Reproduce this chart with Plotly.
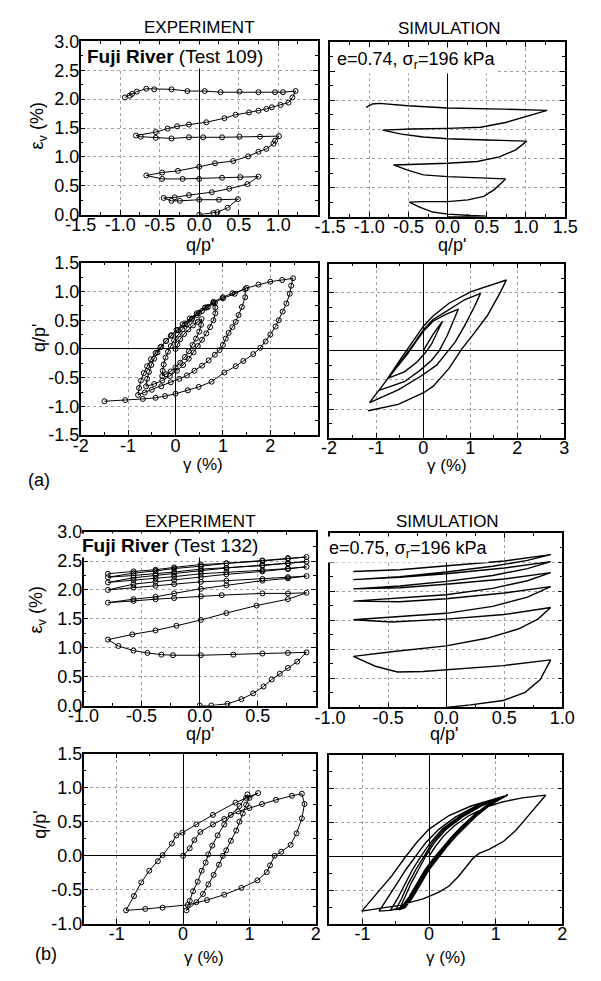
import plotly.graph_objects as go

W, H = 601, 981
FONT = "Liberation Sans, Arial, Helvetica, sans-serif"

# ------------------------------------------------------------------ data
# (a) Fuji River Test 109 - experiment : q/p'  vs  volumetric strain (%)
a_exp_qp = [0, 0.18, 0.23, 0.36, 0.49,
            0.25, 0, -0.245, -0.35, -0.45,
            -0.31, -0.13, 0.16, 0.38, 0.61, 0.75,
            0.52, 0.29, 0, -0.21, -0.47, -0.67,
            -0.47, -0.27, 0, 0.2, 0.43, 0.62, 0.75, 0.85, 0.94, 0.96, 1.01,
            0.77, 0.51, 0.29, 0.05, -0.13, -0.35, -0.55, -0.74, -0.8,
            -0.55, -0.4, -0.28, -0.13, 0.09, 0.32, 0.46, 0.63, 0.75, 0.85, 0.92, 1.03, 1.13, 1.18, 1.22,
            1.06, 0.96, 0.75, 0.51, 0.27, 0.07, -0.15, -0.35, -0.57, -0.67, -0.79, -0.85, -0.88, -0.94]
a_exp_ev = [0, 0.03, 0.045, 0.12, 0.27,
            0.26, 0.26, 0.24, 0.24, 0.29,
            0.30, 0.34, 0.39, 0.45, 0.53, 0.66,
            0.65, 0.64, 0.62, 0.62, 0.62, 0.68,
            0.73, 0.76, 0.83, 0.89, 0.93, 1.01, 1.09, 1.14, 1.23, 1.28, 1.36,
            1.35, 1.35, 1.34, 1.34, 1.34, 1.32, 1.33, 1.35, 1.37,
            1.43, 1.49, 1.53, 1.56, 1.60, 1.67, 1.73, 1.77, 1.80, 1.83, 1.86, 1.90, 1.94, 2.03, 2.14,
            2.12, 2.12, 2.12, 2.13, 2.12, 2.14, 2.14, 2.17, 2.17, 2.18, 2.13, 2.09, 2.06, 2.03]

# (a) simulation : q/p'  vs  volumetric strain (%)
a_sim_qp = [0, 0.50,
            0.30, 0, -0.19, -0.35, -0.49,
            -0.31, 0, 0.26, 0.46, 0.60, 0.74,
            0.5, 0, -0.31, -0.51, -0.69,
            -0.39, 0, 0.38, 0.66, 0.87, 1.01,
            0.5, 0, -0.31, -0.59, -0.83,
            -0.47, 0, 0.42, 0.74, 1.03, 1.27,
            0.70, 0, -0.51, -0.87, -0.96, -1.04]
a_sim_ev = [0, 0.01,
            0.02, 0.045, 0.08, 0.16, 0.25,
            0.26, 0.26, 0.29, 0.35, 0.47, 0.65,
            0.66, 0.69, 0.72, 0.80, 0.89,
            0.90, 0.92, 0.95, 1.03, 1.15, 1.30,
            1.32, 1.34, 1.37, 1.42, 1.49,
            1.51, 1.52, 1.54, 1.62, 1.73, 1.83,
            1.85, 1.87, 1.91, 1.95, 1.94, 1.88]

# (a) experiment : shear strain (%)  vs  q/p'
a_exp_gam = [0, 0.04, 0.1, 0.18, 0.27, 0.37, 0.47, 0.55,
             0.54, 0.5, 0.43, 0.36, 0.28, 0.2, 0.1, 0.0, -0.1, -0.2, -0.28,
             -0.27, -0.25, -0.21, -0.16, -0.1, -0.03, 0.05, 0.14, 0.24, 0.34, 0.45, 0.56, 0.68, 0.83,
             0.84, 0.84, 0.8, 0.73, 0.65, 0.56, 0.47, 0.38, 0.28, 0.16, 0.03, -0.12, -0.28, -0.45, -0.62,
             -0.6, -0.56, -0.51, -0.45, -0.38, -0.3, -0.2, -0.1, 0.02, 0.15, 0.3, 0.45, 0.62, 0.8, 1.0, 1.2, 1.47,
             1.47, 1.4, 1.33, 1.27, 1.2, 1.12, 1.06, 1.0, 0.93, 0.83, 0.7, 0.56, 0.4, 0.24, 0.08, -0.1, -0.3, -0.5, -0.65, -0.79,
             -0.77, -0.73, -0.67, -0.6, -0.52, -0.42, -0.32, -0.2, -0.08, 0.05, 0.2, 0.35, 0.5, 0.65, 0.8, 1.0, 1.25, 1.5, 1.75, 2.0, 2.25, 2.48,
             2.44, 2.41, 2.34, 2.26, 2.18, 2.11, 2.0, 1.9, 1.79, 1.64, 1.43, 1.27, 1.03, 0.76, 0.49, 0.26, 0.0, -0.22, -0.42, -0.69, -1.06, -1.5]
a_exp_qp2 = [0, 0.08, 0.17, 0.26, 0.34, 0.41, 0.47, 0.52,
             0.42, 0.3, 0.18, 0.07, -0.04, -0.14, -0.24, -0.32, -0.39, -0.44, -0.47,
             -0.38, -0.27, -0.15, -0.05, 0.05, 0.15, 0.25, 0.34, 0.43, 0.51, 0.59, 0.66, 0.73, 0.8,
             0.72, 0.62, 0.5, 0.38, 0.27, 0.16, 0.05, -0.06, -0.17, -0.28, -0.38, -0.47, -0.55, -0.61, -0.65,
             -0.52, -0.4, -0.28, -0.17, -0.06, 0.04, 0.14, 0.23, 0.33, 0.43, 0.53, 0.62, 0.72, 0.82, 0.9, 0.97, 1.04,
             0.9, 0.73, 0.59, 0.47, 0.38, 0.28, 0.18, 0.07, -0.02, -0.1, -0.2, -0.29, -0.38, -0.46, -0.52, -0.58, -0.65, -0.71, -0.76, -0.8,
             -0.68, -0.55, -0.42, -0.3, -0.18, -0.07, 0.03, 0.14, 0.24, 0.33, 0.43, 0.53, 0.63, 0.72, 0.8, 0.88, 0.96, 1.06, 1.12, 1.17, 1.2, 1.23,
             1.1, 0.96, 0.79, 0.65, 0.5, 0.39, 0.25, 0.13, 0.02, -0.09, -0.21, -0.3, -0.41, -0.57, -0.66, -0.72, -0.78, -0.82, -0.85, -0.87, -0.89, -0.91]

# (a) simulation : shear strain (%)  vs  q/p'
a_sim_gam = [0, 0.2, 0.41,
             0.31, 0.18, 0.06, -0.13, -0.40, -0.74,
             -0.53, -0.33, -0.16, 0.01, 0.21, 0.48, 0.75,
             0.65, 0.51, 0.34, 0.18, -0.06, -0.40, -0.94,
             -0.67, -0.40, -0.20, 0.01, 0.21, 0.55, 0.88, 1.22,
             1.09, 0.88, 0.68, 0.51, 0.28, -0.06, -0.53, -1.14,
             -0.80, -0.47, -0.23, 0.01, 0.21, 0.55, 1.02, 1.42, 1.77,
             1.63, 1.36, 1.09, 0.82, 0.55, 0.21, 0.01, -0.53, -1.17]
a_sim_qp2 = [0, 0.27, 0.51,
             0.34, 0.12, -0.02, -0.19, -0.36, -0.47,
             -0.25, -0.05, 0.15, 0.34, 0.51, 0.63, 0.72,
             0.54, 0.26, 0.0, -0.16, -0.33, -0.53, -0.68,
             -0.39, -0.11, 0.12, 0.37, 0.54, 0.71, 0.88, 0.99,
             0.76, 0.43, 0.15, -0.02, -0.25, -0.44, -0.67, -0.89,
             -0.53, -0.13, 0.15, 0.43, 0.60, 0.82, 1.02, 1.13, 1.22,
             0.99, 0.60, 0.31, 0.03, -0.30, -0.61, -0.72, -0.92, -1.03]

# (b) Fuji River Test 132 - experiment : q/p'  vs  volumetric strain (%)
b_exp_qp = [0, 0.1, 0.24, 0.36, 0.46, 0.55, 0.62, 0.69, 0.76, 0.84, 0.92,
            0.76, 0.54, 0.29, 0.01, -0.23, -0.33, -0.45, -0.57, -0.70, -0.79,
            -0.58, -0.38, -0.20, 0.01, 0.23, 0.49, 0.76, 0.92,
            0.76, 0.54, 0.19, 0.01, -0.22, -0.38, -0.57, -0.79,
            -0.57, -0.38, -0.22, 0.01, 0.23, 0.54, 0.76, 0.92,
            0.76, 0.54, 0.23, 0.01, -0.22, -0.38, -0.57, -0.79,
            -0.57, -0.38, -0.22, 0.01, 0.23, 0.54, 0.76, 0.92,
            0.76, 0.54, 0.23, 0.01, -0.22, -0.38, -0.57, -0.79,
            -0.57, -0.38, -0.22, 0.01, 0.23, 0.54, 0.76, 0.92,
            0.76, 0.54, 0.23, 0.01, -0.22, -0.38, -0.57, -0.79,
            -0.57, -0.38, -0.22, 0.01, 0.23, 0.54, 0.76, 0.92,
            0.76, 0.54, 0.23, 0.01, -0.22, -0.38, -0.57, -0.79]
b_exp_ev = [0, 0.0, 0.03, 0.11, 0.21, 0.33, 0.45, 0.55, 0.65, 0.76, 0.92,
            0.91, 0.90, 0.88, 0.87, 0.87, 0.88, 0.91, 0.95, 1.03, 1.14,
            1.23, 1.30, 1.38, 1.48, 1.60, 1.73, 1.84, 1.95,
            1.94, 1.94, 1.91, 1.89, 1.86, 1.84, 1.81, 1.78,
            1.84, 1.88, 1.94, 2.02, 2.08, 2.16, 2.20, 2.24,
            2.22, 2.19, 2.16, 2.14, 2.10, 2.07, 2.04, 2.00,
            2.10, 2.14, 2.17, 2.22, 2.27, 2.32, 2.36, 2.40,
            2.37, 2.34, 2.31, 2.28, 2.23, 2.20, 2.17, 2.13,
            2.21, 2.25, 2.28, 2.33, 2.38, 2.43, 2.46, 2.49,
            2.46, 2.42, 2.38, 2.36, 2.31, 2.28, 2.25, 2.22,
            2.29, 2.33, 2.37, 2.41, 2.46, 2.51, 2.55, 2.57,
            2.54, 2.50, 2.46, 2.44, 2.39, 2.35, 2.32, 2.28]

# (b) simulation : q/p'  vs  volumetric strain (%)
b_sim_qp = [0, 0.21, 0.49, 0.68, 0.81, 0.9,
            0.49, 0, -0.2, -0.42, -0.61, -0.8,
            -0.47, 0, 0.35, 0.62, 0.79, 0.9,
            0.5, 0, -0.47, -0.8,
            -0.4, 0, 0.4, 0.7, 0.9,
            0.5, 0, -0.4, -0.8,
            -0.4, 0, 0.4, 0.7, 0.9,
            0.5, 0, -0.4, -0.8,
            -0.4, 0, 0.4, 0.7, 0.9,
            0.5, 0, -0.4, -0.8,
            -0.4, 0, 0.4, 0.7, 0.9,
            0.5, 0, -0.4, -0.8]
b_sim_ev = [0, 0.045, 0.12, 0.26, 0.48, 0.82,
            0.72, 0.64, 0.62, 0.61, 0.71, 0.88,
            0.96, 1.06, 1.19, 1.35, 1.52, 1.72,
            1.60, 1.52, 1.47, 1.51,
            1.56, 1.62, 1.74, 1.90, 2.08,
            1.97, 1.87, 1.82, 1.83,
            1.88, 1.94, 2.05, 2.18, 2.32,
            2.21, 2.12, 2.06, 2.04,
            2.09, 2.17, 2.27, 2.39, 2.51,
            2.40, 2.30, 2.24, 2.20,
            2.25, 2.33, 2.43, 2.53, 2.63,
            2.52, 2.43, 2.37, 2.34]

# (b) experiment : shear strain (%)  vs  q/p'
b_exp_gam = [0, 0.1, 0.17, 0.26, 0.45, 0.62, 0.83, 1.0, 1.19, 1.4, 1.64, 1.79,
             1.83, 1.79, 1.71, 1.62, 1.48, 1.38, 1.31, 1.26, 1.12, 0.88, 0.62, 0.36, 0.07, -0.31, -0.57, -0.86,
             -0.74, -0.63, -0.51, -0.38, -0.31, -0.17, -0.1, -0.01, 0.2, 0.45, 0.79, 0.95, 1.13,
             1.0, 0.95, 0.9, 0.85, 0.8, 0.72, 0.65, 0.6, 0.54, 0.46, 0.38, 0.3, 0.2, 0.05,
             0.1, 0.15, 0.22, 0.28, 0.34, 0.38, 0.44, 0.52, 0.62, 0.72, 0.85, 0.97]
b_exp_qp2 = [0, 0.11, 0.23, 0.35, 0.46, 0.54, 0.65, 0.7, 0.76, 0.82, 0.88, 0.91,
             0.76, 0.55, 0.33, 0.16, 0.06, 0.0, -0.14, -0.24, -0.36, -0.47, -0.57, -0.65, -0.72, -0.76, -0.78, -0.8,
             -0.59, -0.39, -0.22, -0.08, 0.01, 0.18, 0.3, 0.34, 0.46, 0.6, 0.78, 0.85, 0.92,
             0.85, 0.75, 0.62, 0.5, 0.37, 0.22, 0.08, 0.0, -0.13, -0.28, -0.42, -0.56, -0.68, -0.8,
             -0.66, -0.52, -0.38, -0.22, -0.1, 0.02, 0.15, 0.3, 0.46, 0.6, 0.73, 0.9]

# (b) simulation : shear strain (%)  vs  q/p'
b_sim_gam = [0, 0.1, 0.22, 0.38, 0.6, 0.85, 1.1, 1.4, 1.75,
             1.6, 1.45, 1.3, 1.12, 0.9, 0.75, 0.66, 0.56, 0.44, 0.3, 0.15, -0.09, -0.47, -1.01,
             -0.8, -0.56, -0.37, -0.18, 0, 0.3, 0.63, 0.96, 1.18,
             1.0, 0.85, 0.68, 0.5, 0.35, 0.2, 0.06, -0.06, -0.18, -0.3, -0.42, -0.6, -0.75,
             -0.62, -0.48, -0.35, -0.2, -0.05, 0.15, 0.4, 0.7, 1.0, 1.18,
             1.02, 0.87, 0.7, 0.52, 0.37, 0.22, 0.08, -0.04, -0.16, -0.28, -0.4, -0.58,
             -0.47, -0.36, -0.25, -0.12, 0.02, 0.2, 0.45, 0.74, 1.02, 1.18,
             1.04, 0.89, 0.72, 0.54, 0.39, 0.24, 0.1, -0.02, -0.14, -0.26, -0.38, -0.5,
             -0.41, -0.31, -0.2, -0.08, 0.05, 0.23, 0.48, 0.76, 1.03, 1.18,
             1.05, 0.9, 0.73, 0.56, 0.41, 0.26, 0.12, 0.0, -0.12, -0.24, -0.36, -0.45,
             -0.37, -0.27, -0.16, -0.05, 0.08, 0.26, 0.5, 0.78, 1.04, 1.17]
b_sim_qp2 = [0, 0.15, 0.3, 0.45, 0.6, 0.72, 0.8, 0.86, 0.9,
             0.72, 0.55, 0.38, 0.22, 0.1, 0.04, -0.03, -0.16, -0.3, -0.44, -0.53, -0.63, -0.73, -0.81,
             -0.56, -0.29, -0.03, 0.21, 0.4, 0.6, 0.74, 0.84, 0.9,
             0.83, 0.74, 0.61, 0.45, 0.3, 0.13, -0.04, -0.2, -0.4, -0.6, -0.76, -0.8, -0.81,
             -0.62, -0.4, -0.2, 0.0, 0.2, 0.4, 0.58, 0.74, 0.85, 0.9,
             0.83, 0.74, 0.61, 0.45, 0.3, 0.13, -0.04, -0.2, -0.4, -0.6, -0.76, -0.8,
             -0.62, -0.4, -0.2, 0.0, 0.2, 0.4, 0.58, 0.74, 0.85, 0.9,
             0.83, 0.74, 0.61, 0.45, 0.3, 0.13, -0.04, -0.2, -0.4, -0.6, -0.76, -0.79,
             -0.62, -0.4, -0.2, 0.0, 0.2, 0.4, 0.58, 0.74, 0.85, 0.9,
             0.83, 0.74, 0.61, 0.45, 0.3, 0.13, -0.04, -0.2, -0.4, -0.6, -0.76, -0.79,
             -0.62, -0.4, -0.2, 0.0, 0.2, 0.4, 0.58, 0.74, 0.85, 0.89]

# tick values / labels
qp15l_vals = [-1.5, -1.0, -0.5, 0.0, 0.5, 1.0]
qp15l_text = ["-1.5", "-1.0", "-0.5", "0.0", "0.5", "1.0"]
qp15_vals = [-1.5, -1.0, -0.5, 0.0, 0.5, 1.0, 1.5]
qp15_text = ["-1.5", "-1.0", "-0.5", "0.0", "0.5", "1.0", "1.5"]
qp10l_vals = [-1.0, -0.5, 0.0, 0.5]
qp10l_text = ["-1.0", "-0.5", "0.0", "0.5"]
qp10_vals = [-1.0, -0.5, 0.0, 0.5, 1.0]
qp10_text = ["-1.0", "-0.5", "0.0", "0.5", "1.0"]
ev_vals = [0.0, 0.5, 1.0, 1.5, 2.0, 2.5, 3.0]
ev_text = ["0.0", "0.5", "1.0", "1.5", "2.0", "2.5", "3.0"]
gam_al_vals = [-2, -1, 0, 1, 2]
gam_al_text = ["-2", "-1", "0", "1", "2"]
gam_a_vals = [-2, -1, 0, 1, 2, 3]
gam_a_text = ["-2", "-1", "0", "1", "2", "3"]
gam_b_vals = [-1, 0, 1, 2]
gam_b_text = ["-1", "0", "1", "2"]
qpa_vals = [-1.5, -1.0, -0.5, 0.0, 0.5, 1.0, 1.5]
qpa_text = ["-1.5", "-1.0", "-0.5", "0.0", "0.5", "1.0", "1.5"]
qpb_vals = [-1.0, -0.5, 0.0, 0.5, 1.0, 1.5]
qpb_text = ["-1.0", "-0.5", "0.0", "0.5", "1.0", "1.5"]

# ------------------------------------------------------------------ layout helpers
# panel boxes in pixels: (left, right, top, bottom)
BOX = {1: (68, 317, 32, 209), 2: (330, 577, 33, 211),
       3: (68, 317, 258, 434), 4: (329, 576, 259, 437),
       5: (71, 315, 533, 710), 6: (330, 574, 534, 712),
       7: (71, 315, 759, 933), 8: (329, 574, 760, 933)}
TICKSIZE = 18


def px(x):
    return x / W


def py(y):
    return 1 - y / H


def axis(dom, rng, vals, text, show, dtick_minor, standoff):
    d = dict(domain=dom, range=rng, tickmode="array", tickvals=vals,
             showline=True, linecolor="black", linewidth=1.5, mirror="ticks",
             ticks="inside", ticklen=5, tickwidth=1, tickcolor="black",
             showgrid=True, gridcolor="#a0a0a0", griddash="dot", gridwidth=1,
             zeroline=True, zerolinecolor="black", zerolinewidth=1.3,
             showticklabels=show, ticklabelstandoff=standoff,
             tickfont=dict(family=FONT, size=TICKSIZE, color="black"),
             minor=dict(ticks="inside", ticklen=3, tickcolor="black", dtick=dtick_minor,
                        tick0=0, showgrid=False),
             fixedrange=True)
    if show:
        d["ticktext"] = text
    return d


fig = go.Figure()

line_exp = dict(color="black", width=1)
mk = dict(symbol="circle-open", size=5, color="black", line=dict(width=1))
line_sim = dict(color="black", width=1.4)

series = [
    (1, a_exp_qp, a_exp_ev, True),
    (2, a_sim_qp, a_sim_ev, False),
    (3, a_exp_gam, a_exp_qp2, True),
    (4, a_sim_gam, a_sim_qp2, False),
    (5, b_exp_qp, b_exp_ev, True),
    (6, b_sim_qp, b_sim_ev, False),
    (7, b_exp_gam, b_exp_qp2, True),
    (8, b_sim_gam, b_sim_qp2, False),
]
for i, xs, ys, is_exp in series:
    sfx = "" if i == 1 else str(i)
    if is_exp:
        fig.add_trace(go.Scatter(x=xs, y=ys, mode="lines+markers", line=line_exp,
                                 marker=mk, xaxis="x" + sfx, yaxis="y" + sfx,
                                 showlegend=False, hoverinfo="skip"))
    else:
        fig.add_trace(go.Scatter(x=xs, y=ys, mode="lines", line=line_sim,
                                 xaxis="x" + sfx, yaxis="y" + sfx,
                                 showlegend=False, hoverinfo="skip"))

cfg = {
    1: dict(x=([-1.5, 1.5], qp15l_vals, qp15l_text, 0.25), y=([0, 3], ev_vals, ev_text, True, 0.25)),
    2: dict(x=([-1.5, 1.5], qp15_vals, qp15_text, 0.25), y=([0, 3], ev_vals, ev_text, False, 0.25)),
    3: dict(x=([-2, 3], gam_al_vals, gam_al_text, 0.5), y=([-1.5, 1.5], qpa_vals, qpa_text, True, 0.25)),
    4: dict(x=([-2, 3], gam_a_vals, gam_a_text, 0.5), y=([-1.5, 1.5], qpa_vals, qpa_text, False, 0.25)),
    5: dict(x=([-1, 1], qp10l_vals, qp10l_text, 0.25), y=([0, 3], ev_vals, ev_text, True, 0.25)),
    6: dict(x=([-1, 1], qp10_vals, qp10_text, 0.25), y=([0, 3], ev_vals, ev_text, False, 0.25)),
    7: dict(x=([-1.5, 2], gam_b_vals, gam_b_text, 0.5), y=([-1, 1.5], qpb_vals, qpb_text, True, 0.25)),
    8: dict(x=([-1.5, 2], gam_b_vals, gam_b_text, 0.5), y=([-1, 1.5], qpb_vals, qpb_text, False, 0.25)),
}

lay = {}
for i, c in cfg.items():
    l, r, t, b = BOX[i]
    sfx = "" if i == 1 else str(i)
    xr, xv, xt, xm = c["x"]
    yr, yv, yt, yshow, ym = c["y"]
    xa = axis([px(l), px(r)], xr, xv, xt, True, xm, -7)
    xa["anchor"] = "y" + sfx
    ya = axis([py(b), py(t)], yr, yv, yt, yshow, ym, -4)
    ya["anchor"] = "x" + sfx
    lay["xaxis" + sfx] = xa
    lay["yaxis" + sfx] = ya

fig.update_layout(**lay)

ann = []


def txt(x, y, s, size=16, xanchor="center", angle=0, bg=None):
    d = dict(x=px(x), y=py(y), xref="paper", yref="paper", text=s, showarrow=False,
             xanchor=xanchor, yanchor="middle", textangle=angle,
             font=dict(family=FONT, size=size, color="black"))
    if bg:
        d["bgcolor"] = bg
        d["borderpad"] = 1
    ann.append(d)


txt(193, 18, "EXPERIMENT", 17)
txt(455, 19, "SIMULATION", 17)
txt(194, 522, "EXPERIMENT", 17)
txt(453, 522, "SIMULATION", 17)
txt(72, 47, "<b>Fuji River</b> (Test 109)", 19, "left", bg="white")
txt(335, 52, "e=0.74, σ<sub>r</sub>=196 kPa", 18, "left", bg="white")
txt(67, 547, "<b>Fuji River</b> (Test 132)", 19, "left", bg="white")
txt(327, 551, "e=0.75, σ<sub>r</sub>=196 kPa", 18, "left", bg="white")
# axis titles
txt(193, 240, "q/p'", 18)
txt(458, 240, "q/p'", 18)
txt(196, 464, "γ (%)", 17)
txt(453, 465, "γ (%)", 17)
txt(193, 739, "q/p'", 18)
txt(450, 739, "q/p'", 18)
txt(198, 967, "γ (%)", 17)
txt(452, 967, "γ (%)", 17)
txt(24, 118, "ε<sub>v</sub> (%)", 18, angle=-90)
txt(24, 335, "q/p'", 18, angle=-90)
txt(23, 612, "ε<sub>v</sub> (%)", 18, angle=-90)
txt(25, 832, "q/p'", 18, angle=-90)
txt(24, 480, "(a)", 18)
txt(32, 964, "(b)", 18)

fig.update_layout(annotations=ann, width=W, height=H,
                  margin=dict(l=0, r=0, t=0, b=0),
                  paper_bgcolor="white", plot_bgcolor="white",
                  font=dict(family=FONT, color="black"))

fig.write_html("out.html", config={"displayModeBar": False})
